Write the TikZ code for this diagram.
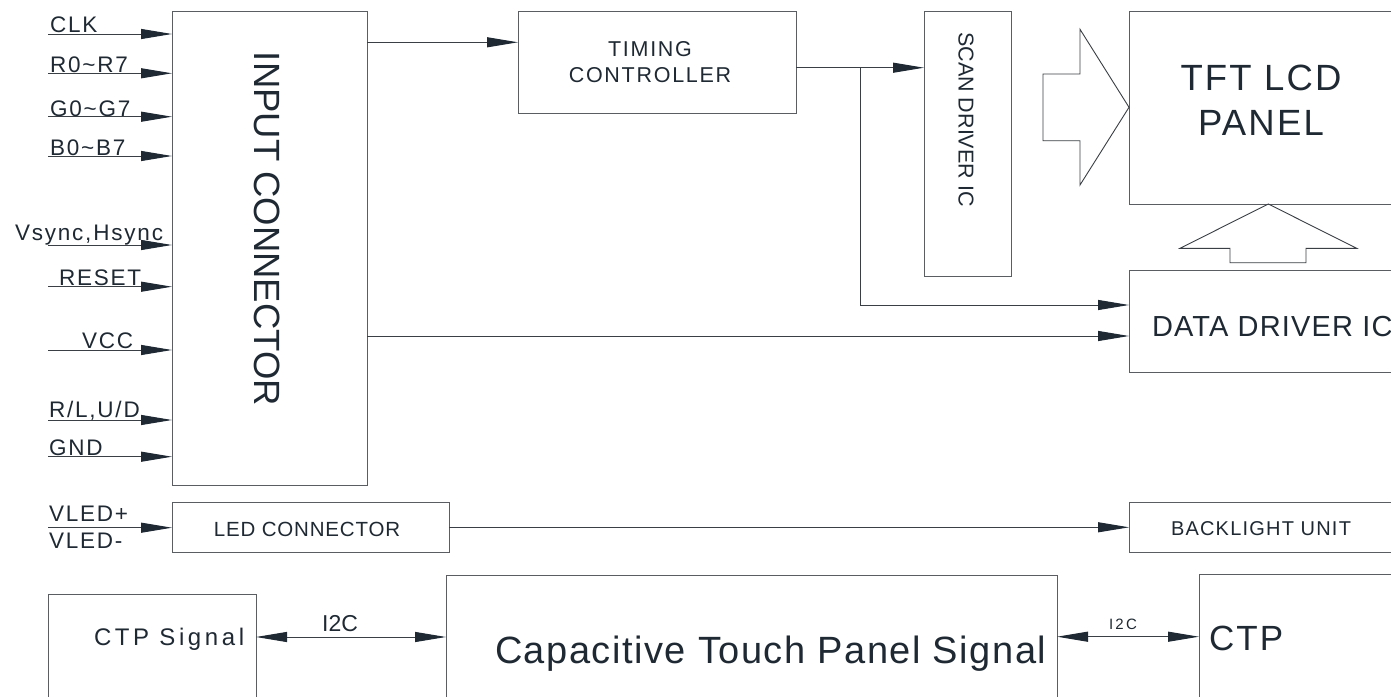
\documentclass[tikz,border=0pt]{standalone}
\usepackage{fontspec}
\setmainfont{Liberation Sans}
\newfontfamily\fN{Liberation Sans}
\newfontfamily\fA{Liberation Sans}[LetterSpace=4]
\newfontfamily\fB{Liberation Sans}[LetterSpace=6]
\newfontfamily\fC{Liberation Sans}[LetterSpace=8]
\newfontfamily\fD{Liberation Sans}[LetterSpace=15]
\newcommand\fsz[2]{\fontsize{#1}{#2}\selectfont}
\usetikzlibrary{arrows.meta,fit}
\definecolor{boxcol}{HTML}{5A5E63}
\definecolor{wirecol}{HTML}{3A3F45}
\definecolor{tipcol}{HTML}{1F2933}
\definecolor{txtcol}{HTML}{1F2933}
\begin{document}
\begin{tikzpicture}[x=1pt,y=-1pt,
  box/.style={draw=boxcol,line width=1pt,inner sep=0pt,outer sep=0pt},
  lbl/.style={inner sep=0pt,outer sep=0pt,text=txtcol},
  wire/.style={draw=wirecol,line width=1pt},
  arr/.style={wire,-{Triangle[length=31pt,width=10pt,color=tipcol]}},
  barr/.style={wire,{Triangle[length=31pt,width=10pt,color=tipcol]}-{Triangle[length=31pt,width=10pt,color=tipcol]}},
  hollow/.style={draw=wirecol,line width=0.9pt,line join=miter}]
\fill[white] (0,0) rectangle (1391,696);
\useasboundingbox (0,0) rectangle (1391,696);

% boxes
\node[box,fit={(172,11) (367,485)}] (inc) {};
\node[box,fit={(518,11) (796,113)}] (tcon) {};
\node[box,fit={(924,11) (1011,276)}] (scan) {};
\node[box,fit={(1129,11) (1420,204)}] (tft) {};
\node[box,fit={(1129,270) (1420,372)}] (ddrv) {};
\node[box,fit={(172,502) (449,552)}] (ledc) {};
\node[box,fit={(1129,502) (1420,552)}] (blu) {};
\node[box,fit={(48,594) (256,720)}] (ctps) {};
\node[box,fit={(446,575) (1057,720)}] (cap) {};
\node[box,fit={(1199,574) (1420,720)}] (ctp) {};

% box texts
\node[lbl,rotate=-90,font=\fN\fsz{36.5}{40}] (inctxt) at (267,229) {INPUT CONNECTOR};
\node[lbl,rotate=-90,font=\fN\fsz{21.5}{24}] (scantxt) at (966,119.5) {SCAN DRIVER IC};
\node[lbl,anchor=base,font=\fC\fsz{21.5}{26}] (tcontxt1) at (650,56) {TIMING};
\node[lbl,anchor=base,font=\fC\fsz{21.5}{26}] (tcontxt2) at (650,82) {CONTROLLER};
\node[lbl,anchor=base,font=\fB\fsz{36.5}{44}] (tfttxt1) at (1261,90.7) {TFT LCD};
\node[lbl,anchor=base,font=\fB\fsz{36.5}{44}] (tfttxt2) at (1261,135) {PANEL};
\node[lbl,anchor=base west,font=\fA\fsz{29}{34}] (ddrvtxt) at (1152,336) {DATA DRIVER IC};
\node[lbl,anchor=base,font=\fA\fsz{20.5}{24}] (ledctxt) at (307,536.7) {LED CONNECTOR};
\node[lbl,anchor=base west,font=\fB\fsz{20}{24}] (blutxt) at (1171,535.7) {BACKLIGHT UNIT};
\node[lbl,anchor=base west,font=\fD\fsz{24}{28}] (ctpstxt) at (94,645) {CTP Signal};
\node[lbl,anchor=base west,font=\fA\fsz{38}{42}] (captxt) at (495,663.3) {Capacitive Touch Panel Signal};
\node[lbl,anchor=base west,font=\fB\fsz{35}{40}] (ctptxt) at (1209,650) {CTP};

% input signals
\foreach \i/\y/\lx/\ly/\t in {1/34/50/32.7/CLK,
    2/73.3/50/72.7/{R0\textasciitilde R7},
    3/116.7/50/116/{G0\textasciitilde G7},
    4/156/50/155/{B0\textasciitilde B7},
    5/245/15/240/{Vsync,Hsync},
    6/286.7/59/285/RESET,
    7/350/82/348.3/VCC,
    8/420/49/417.3/{R/L,U/D},
    9/456.7/49/455/GND}{
  \coordinate (s\i) at (48,\y);
  \draw[arr] (s\i) -- (s\i -| inc.west);
  \node[lbl,anchor=base west,font=\fC\fsz{22.5}{26}] (t\i) at (\lx,\ly) {\t};
}
\coordinate (sled) at (48,527.7);
\draw[arr] (sled) -- (sled -| ledc.west);
\node[lbl,anchor=base west,font=\fC\fsz{22.5}{26}] (tledp) at (49,521.7) {VLED+};
\node[lbl,anchor=base west,font=\fC\fsz{22.5}{26}] (tledm) at (49,548.3) {VLED-};

% connectors
\draw[arr] (inc.east |- 0,42.3) -- (tcon.west |- 0,42.3);
\draw[arr] (tcon.east |- 0,67.7) -- (scan.west |- 0,67.7);
\coordinate (br) at (860,67.7);
\draw[arr] (br) -- (860,305) -- (ddrv.west |- 0,305);
\draw[arr] (inc.east |- 0,336) -- (ddrv.west |- 0,336);
\draw[arr] (ledc.east |- 0,527.3) -- (blu.west |- 0,527.3);
\draw[barr] (ctps.east |- 0,637) -- (cap.west |- 0,637);
\draw[barr] (cap.east |- 0,636.7) -- (ctp.west |- 0,636.7);
\node[lbl,anchor=base,font=\fN\fsz{23}{26}] (i2c1) at (340,631.7) {I2C};
\node[lbl,anchor=base west,font=\fD\fsz{15}{18}] (i2c2) at (1109,629.3) {I2C};

% hollow arrows
\draw[hollow] (1043,74) -- (1080,74) -- (1080,29.3) -- (tft.west |- 0,107.3) -- (1080,185) -- (1080,140.7) -- (1043,140.7) -- cycle;
\draw[hollow] (1268.3,204) -- (1356.7,248.3) -- (1306,248.3) -- (1306,262.7) -- (1230,262.7) -- (1230,248.3) -- (1180,248.3) -- cycle;
\end{tikzpicture}
\end{document}
